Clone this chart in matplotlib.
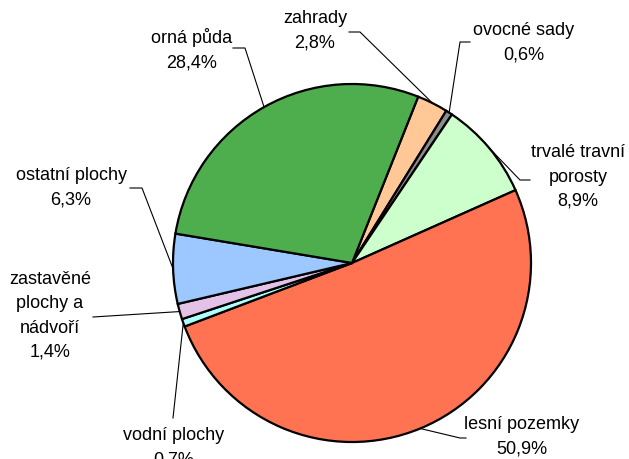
import numpy as np
import matplotlib
matplotlib.use("Agg")
import matplotlib.pyplot as plt

plt.rcParams['font.family'] = ['Liberation Sans', 'DejaVu Sans']

# data (clockwise from top)
labels = ['zahrady', 'ovocné sady', 'trvalé travní\nporosty', 'lesní pozemky',
          'vodní plochy', 'zastavěné\nplochy a\nnádvoří', 'ostatní plochy', 'orná půda']
values = [2.8, 0.6, 8.9, 50.9, 0.7, 1.4, 6.3, 28.4]
colors = ['#ffc896', '#8c8c8c', '#ccffcc', '#ff7252', '#b0ffff', '#e2c2e6', '#9cc8ff', '#4eae4e']

W, H = 629, 459
fig = plt.figure(figsize=(W / 100, H / 100), dpi=100)
ax = fig.add_axes([0, 0, 1, 1])

def P(x, y):
    # pixel coords (y down) -> data coords
    return x, H - y

cx, cy = P(352, 263)
R = 179
wedges, _ = ax.pie(values, colors=colors, startangle=68.3, counterclock=False,
                   center=(cx, cy), radius=R,
                   wedgeprops=dict(edgecolor='black', linewidth=1.6))
ax.set_xlim(0, W)
ax.set_ylim(0, H)
ax.set_aspect('equal')
ax.axis('off')

# text block centre and leader-line elbow points (pixels)
txt_pos = [(315, 31), (524, 43), (578, 177), (522, 437),
           (174, 448), (50, 316), (71, 188), (192, 50)]
elbows = [[(360, 32), (349, 32)], [(460, 42), (470, 42)], [(520, 180), (530, 180)],
          [(460, 438), (466, 438)], [(173, 418)], [(93, 317)],
          [(142, 188), (130, 188)], [(245, 48), (233, 48)]]

for w, lab, v, tp, el in zip(wedges, labels, values, txt_pos, elbows):
    mid = np.deg2rad((w.theta1 + w.theta2) / 2)
    ex, ey = cx + R * np.cos(mid), cy + R * np.sin(mid)
    pts = [(ex, ey)] + [P(*p) for p in el]
    xs, ys = zip(*pts)
    ax.plot(xs, ys, color='black', lw=0.8, zorder=1)
    s = lab + '\n' + ('%.1f%%' % v).replace('.', ',')
    ax.text(*P(*tp), s, ha='center', va='center', multialignment='center',
            fontsize=13, linespacing=1.55, color='black')

fig.savefig('out.png', dpi=100, facecolor='white')
